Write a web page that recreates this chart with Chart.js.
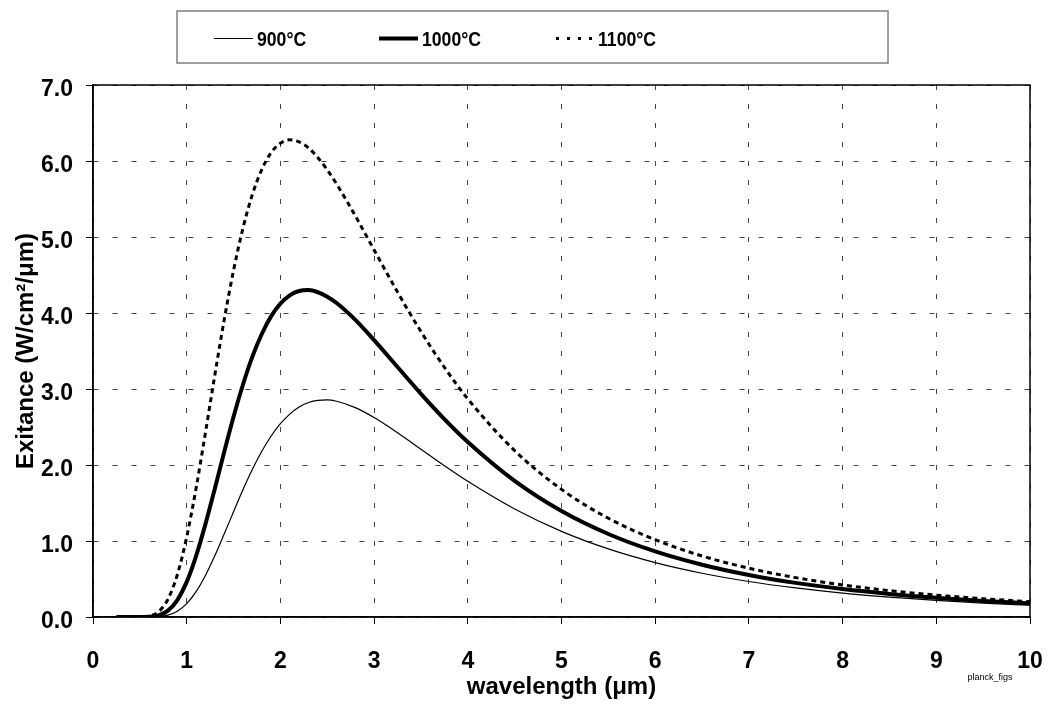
<!DOCTYPE html>
<html>
<head>
<meta charset="utf-8">
<script src="https://cdn.jsdelivr.net/npm/chart.js@4/dist/chart.umd.min.js"></script>
<style>
  html, body { margin: 0; padding: 0; background: #fff; }
  #wadah { width: 1048px; height: 708px; }
</style>
</head>
<body>
<div id="wadah"><canvas id="grafik" width="1048" height="708"></canvas></div>
<script>
// panjang gelombang (um)
const wavelength = [0.25, 0.5, 0.6, 0.7, 0.8, 0.9, 1.0, 1.1, 1.2, 1.3, 1.4, 1.5, 1.6, 1.7, 1.8, 1.9, 2.0, 2.1, 2.2, 2.3, 2.4, 2.5, 2.6, 2.8, 3.0, 3.25, 3.5, 3.75, 4.0, 4.5, 5.0, 5.5, 6.0, 6.5, 7.0, 7.5, 8.0, 8.5, 9.0, 9.5, 10]

// exitance tiap suhu (W/cm2/um)
const e900 = [0, 0, 0.001, 0.005, 0.025, 0.076, 0.176, 0.334, 0.547, 0.805, 1.091, 1.385, 1.673, 1.940, 2.177, 2.378, 2.543, 2.670, 2.763, 2.822, 2.851, 2.856, 2.839, 2.755, 2.624, 2.425, 2.208, 1.991, 1.785, 1.421, 1.127, 0.896, 0.716, 0.576, 0.467, 0.382, 0.314, 0.261, 0.218, 0.183, 0.155]
const e1000 = [0, 0, 0.003, 0.022, 0.084, 0.223, 0.462, 0.802, 1.222, 1.689, 2.170, 2.634, 3.056, 3.422, 3.720, 3.956, 4.124, 4.233, 4.290, 4.301, 4.273, 4.215, 4.131, 3.909, 3.643, 3.289, 2.937, 2.605, 2.303, 1.791, 1.394, 1.092, 0.863, 0.688, 0.553, 0.449, 0.368, 0.304, 0.252, 0.212, 0.179]
const e1100 = [0, 0.001, 0.013, 0.070, 0.234, 0.556, 1.052, 1.694, 2.425, 3.182, 3.908, 4.561, 5.114, 5.556, 5.884, 6.108, 6.234, 6.278, 6.252, 6.172, 6.044, 5.883, 5.697, 5.277, 4.829, 4.275, 3.756, 3.286, 2.870, 2.189, 1.679, 1.299, 1.017, 0.803, 0.642, 0.518, 0.422, 0.347, 0.288, 0.240, 0.202]

const labelSuhu = ['900°C', '1000°C', '1100°C']
const xTicks = [0, 1, 2, 3, 4, 5, 6, 7, 8, 9, 10]
const yTicks = [0, 1, 2, 3, 4, 5, 6, 7]

const huruf = "'Liberation Sans', Arial, sans-serif"

const gabung = (ys) => wavelength.map((x, i) => ({ x: x, y: ys[i] }))

// legenda kotak di atas + bingkai plot + tulisan kecil
const pluginTambahan = {
    id: 'tambahan',
    afterDraw(chart) {
        const ctx = chart.ctx
        const area = chart.chartArea
        ctx.save()

        // bingkai area plot
        ctx.strokeStyle = '#000'
        ctx.lineWidth = 1.5
        ctx.setLineDash([])
        ctx.strokeRect(area.left, area.top, area.right - area.left, area.bottom - area.top)

        // kotak legenda
        ctx.strokeStyle = '#808080'
        ctx.lineWidth = 1.5
        ctx.strokeRect(177, 11, 711, 52)

        const posisi = [[214, 257], [379, 422], [556, 598]]
        const yLeg = 38.5
        chart.data.datasets.forEach((ds, i) => {
            ctx.beginPath()
            ctx.strokeStyle = '#000'
            ctx.lineWidth = i === 0 ? 1 : (i === 1 ? 4 : 3)
            ctx.setLineDash(i === 2 ? [3, 8] : [])
            ctx.moveTo(posisi[i][0], yLeg)
            ctx.lineTo(posisi[i][0] + 39, yLeg)
            ctx.stroke()
            ctx.setLineDash([])

            // teks legenda agak sempit seperti aslinya
            ctx.save()
            ctx.translate(posisi[i][1], yLeg + 2)
            ctx.scale(0.84, 1)
            ctx.fillStyle = '#000'
            ctx.font = 'bold 21px ' + huruf
            ctx.textAlign = 'left'
            ctx.textBaseline = 'middle'
            ctx.fillText(ds.label, 0, 0)
            ctx.restore()
        })

        // nama file kecil
        ctx.font = '9px ' + huruf
        ctx.textAlign = 'center'
        ctx.fillStyle = '#000'
        ctx.fillText('planck_figs', 990, 680)
        ctx.restore()
    }
}

const ctx = document.getElementById('grafik').getContext('2d')
let grafik = new Chart(ctx, {
    type: 'line',
    data: {
        datasets: [{
            label: labelSuhu[0],
            data: gabung(e900),
            borderColor: '#000',
            borderWidth: 1.2,
            pointRadius: 0,
            cubicInterpolationMode: 'monotone',
            fill: false
        }, {
            label: labelSuhu[1],
            data: gabung(e1000),
            borderColor: '#000',
            borderWidth: 4,
            pointRadius: 0,
            cubicInterpolationMode: 'monotone',
            fill: false
        }, {
            label: labelSuhu[2],
            data: gabung(e1100),
            borderColor: '#000',
            borderWidth: 3,
            borderDash: [5, 4],
            pointRadius: 0,
            cubicInterpolationMode: 'monotone',
            fill: false
        }]
    },
    options: {
        responsive: false,
        animation: false,
        layout: { padding: { top: 85, right: 18, left: 0, bottom: 0 } },
        plugins: {
            legend: { display: false },
            tooltip: { enabled: false }
        },
        scales: {
            x: {
                type: 'linear',
                min: 0,
                max: 10,
                afterFit: (s) => {
                    s.height = 91
                    s.paddingLeft = 0
                    s.paddingRight = 0
                },
                afterBuildTicks: (s) => { s.ticks = xTicks.map(v => ({ value: v })) },
                ticks: {
                    color: '#000',
                    font: { family: huruf, size: 23, weight: 'bold' },
                    padding: 24,
                    maxRotation: 0
                },
                grid: {
                    color: '#444',
                    lineWidth: 1,
                    tickLength: 7,
                    tickColor: '#000',
                    tickBorderDash: []
                },
                border: { display: true, color: '#000', width: 1.5, dash: [5, 14] },
                title: {
                    display: true,
                    text: 'wavelength (μm)',
                    color: '#000',
                    font: { family: huruf, size: 24, weight: 'bold' },
                    padding: { top: 0, bottom: 6 }
                }
            },
            y: {
                min: 0,
                max: 7,
                afterFit: (s) => { s.width = 93 },
                afterBuildTicks: (s) => { s.ticks = yTicks.map(v => ({ value: v })) },
                ticks: {
                    color: '#000',
                    font: { family: huruf, size: 23, weight: 'bold' },
                    padding: 13,
                    labelOffset: 5,
                    callback: (v) => Number(v).toFixed(1)
                },
                grid: {
                    color: '#444',
                    lineWidth: 1,
                    tickLength: 7,
                    tickColor: '#000',
                    tickBorderDash: []
                },
                border: { display: true, color: '#000', width: 1.5, dash: [5, 14] },
                title: {
                    display: true,
                    text: 'Exitance (W/cm²/μm)',
                    color: '#000',
                    font: { family: huruf, size: 24, weight: 'bold' },
                    padding: { top: 12, bottom: 0 }
                }
            }
        }
    },
    plugins: [pluginTambahan]
})
</script>
</body>
</html>
